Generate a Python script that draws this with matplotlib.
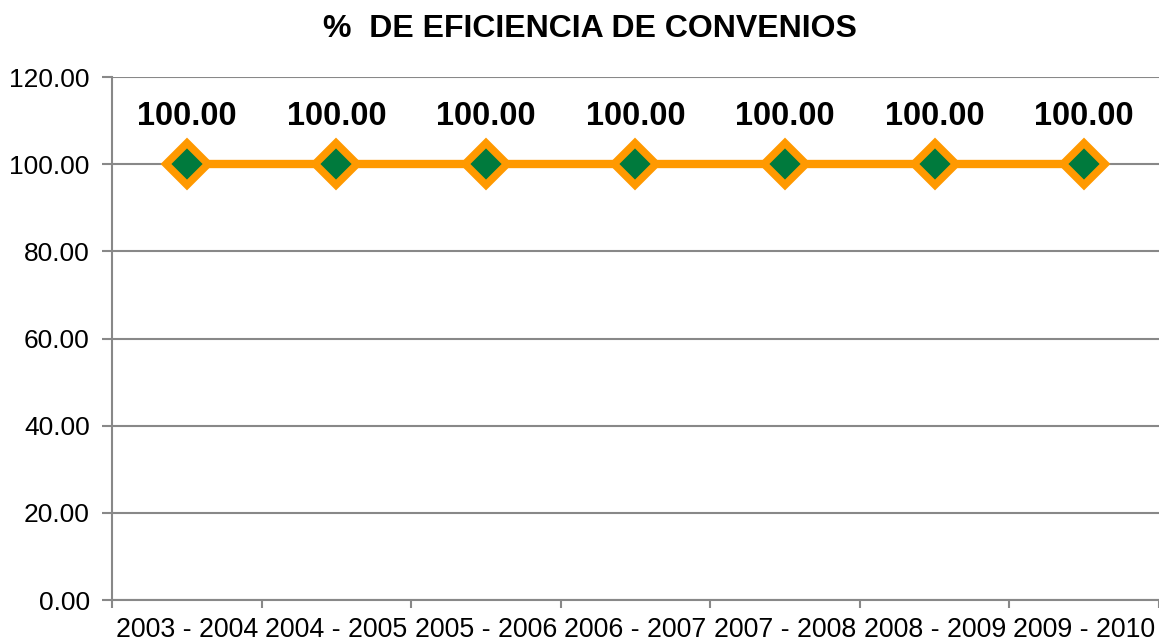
import matplotlib.pyplot as plt
import numpy as np

plt.rcParams['font.family'] = ['Liberation Sans', 'DejaVu Sans']

periodos = ['2003 - 2004', '2004 - 2005', '2005 - 2006', '2006 - 2007',
            '2007 - 2008', '2008 - 2009', '2009 - 2010']
eficiencia = [100.0, 100.0, 100.0, 100.0, 100.0, 100.0, 100.0]

fig = plt.figure(figsize=(11.59, 6.44), dpi=100)
ax = fig.add_axes([0.0966, 0.0683, 0.9034, 0.8121])

x = np.arange(len(periodos))
ax.plot(x, eficiencia, color='#FF9900', lw=6, marker='D', markersize=21,
        markerfacecolor='#007A3D', markeredgecolor='#FF9900', markeredgewidth=5.5,
        zorder=3, clip_on=False)

for xi, v in zip(x, eficiencia):
    ax.annotate('{:.2f}'.format(v), (xi, v), xytext=(0, 34), textcoords='offset points',
                ha='center', va='center', fontsize=23.5, fontweight='bold')

ax.set_xlim(-0.5, len(periodos) - 0.5)
ax.set_ylim(0, 120)
ax.set_yticks(np.arange(0, 121, 20))
ax.set_yticklabels(['{:.2f}'.format(t) for t in np.arange(0, 121, 20)], fontsize=19)
ax.set_xticks(x)
ax.set_xticklabels(periodos, fontsize=19.3)
ax.set_xticks(np.arange(-0.5, len(periodos), 1), minor=True)
ax.tick_params(axis='x', which='major', length=0, pad=12)
ax.tick_params(axis='x', which='minor', length=6, color='#888888', width=1.5)
ax.tick_params(axis='y', length=7, color='#888888', width=1.5, pad=9)

ax.grid(axis='y', color='#888888', lw=1.5)
ax.set_axisbelow(True)
for s in ['top', 'right']:
    ax.spines[s].set_visible(False)
for s in ['left', 'bottom']:
    ax.spines[s].set_color('#888888')
    ax.spines[s].set_linewidth(1.5)

fig.text(0.509, 0.955, '%  DE EFICIENCIA DE CONVENIOS', ha='center', va='center',
         fontsize=23, fontweight='bold')

fig.savefig('out.png', dpi=100)
